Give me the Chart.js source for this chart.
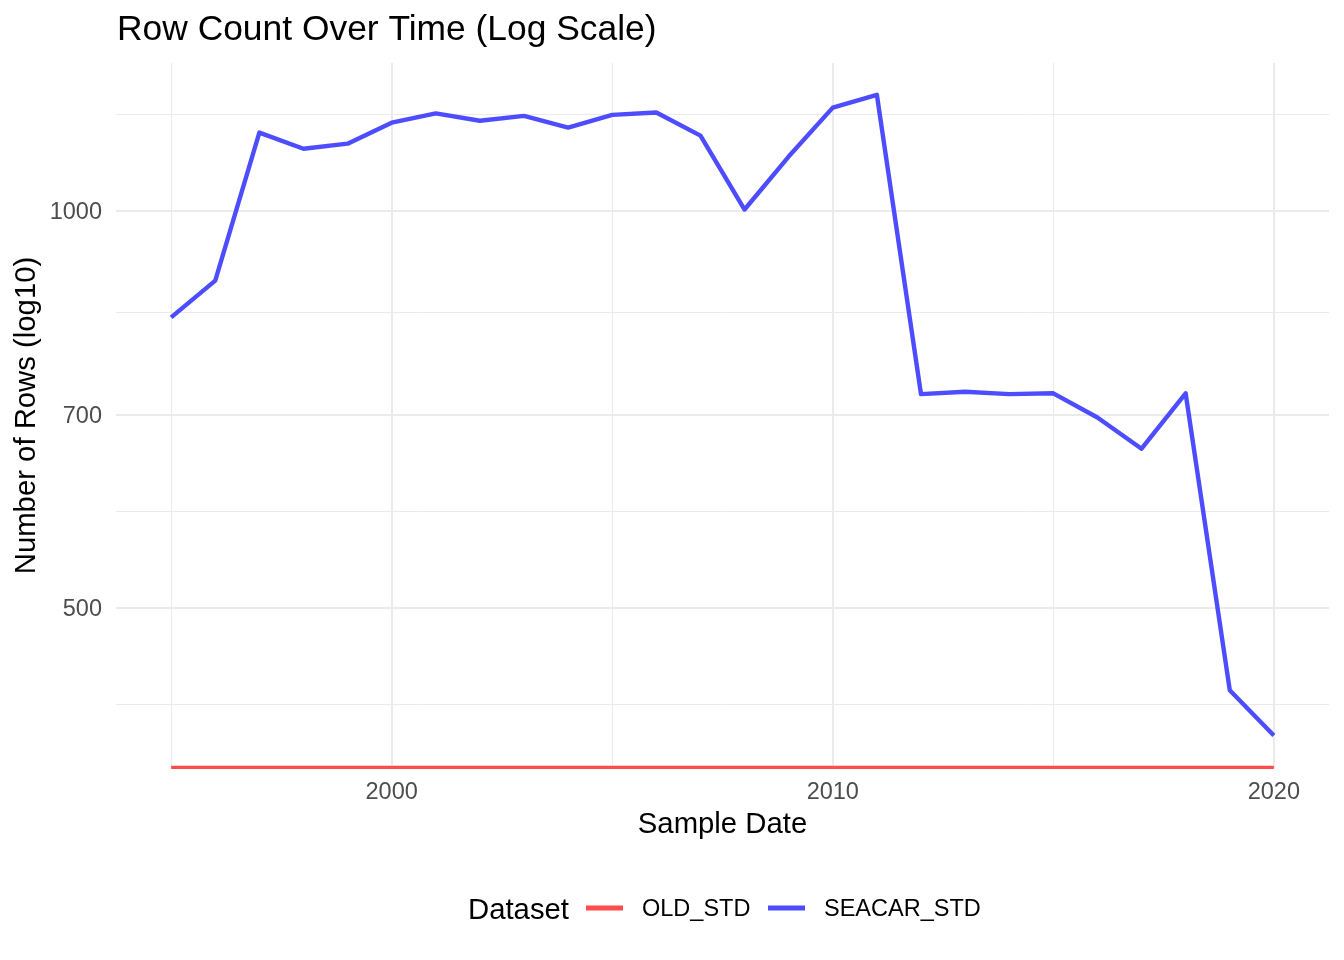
<!DOCTYPE html>
<html>
<head>
<meta charset="utf-8">
<title>Row Count Over Time (Log Scale)</title>
<script src="https://cdn.jsdelivr.net/npm/chart.js@4.4.1/dist/chart.umd.min.js"></script>
<style>
  html, body { margin: 0; padding: 0; background: #fff; }
  #wrap { width: 1344px; height: 960px; }
</style>
</head>
<body>
<div id="wrap"><canvas id="myChart" width="1344" height="960"></canvas></div>
<script>
// values
const years = [1995, 1996, 1997, 1998, 1999, 2000, 2001, 2002, 2003, 2004, 2005, 2006, 2007,
               2008, 2009, 2010, 2011, 2012, 2013, 2014, 2015, 2016, 2017, 2018, 2019, 2020];
const seacarRows = [830, 885, 1146, 1114, 1124, 1166, 1185, 1170, 1180, 1156, 1182, 1187, 1140,
                    1002, 1099, 1197, 1224, 726, 729, 726, 727, 697, 660, 727, 433, 400];
// OLD_STD has no rows, log10(0) = -Inf, which ggplot puts on the panel floor
const oldRows = [0, 0, 0, 0, 0, 0, 0, 0, 0, 0, 0, 0, 0,
                 0, 0, 0, 0, 0, 0, 0, 0, 0, 0, 0, 0, 0];
const seriesNames = ['OLD_STD', 'SEACAR_STD'];
const seriesColors = ['#FF4D4D', '#4D4DFF'];
const yTicks = [500, 700, 1000];
const xTicks = [2000, 2010, 2020];
const xMinorTicks = [1995, 2005, 2015];

const FONT = "'Liberation Sans', Arial, Helvetica, sans-serif";
Chart.defaults.font.family = FONT;

// axis limits: data range plus 5% each side (log space for y)
const yMin = 378, yMax = 1294;
const xMin = 1993.75, xMax = 2021.25;

// ggplot style minor breaks: halfway between majors in log space, one step past each end
const logMajors = yTicks.map(v => Math.log10(v));
const step = logMajors[1] - logMajors[0];
const ext = [logMajors[0] - step].concat(logMajors, [logMajors[logMajors.length - 1] + step]);
const yMinorTicks = [];
for (let i = 0; i < ext.length - 1; i++) {
  yMinorTicks.push(Math.pow(10, (ext[i] + ext[i + 1]) / 2));
}

const toPoints = (vals) => vals.map((v, i) => ({ x: years[i], y: v > 0 ? v : yMin }));

const ggTitle = {
  id: 'ggTitle',
  afterDraw(chart) {
    const ctx = chart.ctx;
    ctx.save();
    ctx.fillStyle = '#000';
    ctx.font = '35.4px ' + FONT;
    ctx.textAlign = 'left';
    ctx.textBaseline = 'alphabetic';
    ctx.fillText('Row Count Over Time (Log Scale)', chart.chartArea.left + 1, 40);
    ctx.restore();
  }
};

const ggLegend = {
  id: 'ggLegend',
  afterDraw(chart) {
    const ctx = chart.ctx;
    const keyX = [586, 768];
    const labelX = [642, 824];
    ctx.save();
    ctx.textAlign = 'left';
    ctx.textBaseline = 'alphabetic';
    ctx.fillStyle = '#000';
    ctx.font = '29.3px ' + FONT;
    ctx.fillText('Dataset', 468, 919);
    chart.data.datasets.forEach((ds, i) => {
      ctx.strokeStyle = ds.borderColor;
      ctx.lineWidth = 5;
      ctx.lineCap = 'butt';
      ctx.beginPath();
      ctx.moveTo(keyX[i], 908);
      ctx.lineTo(keyX[i] + 37, 908);
      ctx.stroke();
      ctx.font = '23.5px ' + FONT;
      ctx.fillText(ds.label, labelX[i], 916);
    });
    ctx.restore();
  }
};

const data = {
  datasets: [
    {
      label: seriesNames[0],
      data: toPoints(oldRows),
      borderColor: seriesColors[0],
      backgroundColor: seriesColors[0],
      borderWidth: 4.4,
      clip: 1,
    },
    {
      label: seriesNames[1],
      data: toPoints(seacarRows),
      borderColor: seriesColors[1],
      backgroundColor: seriesColors[1],
      borderWidth: 4.4,
    }
  ]
};

const config = {
  type: 'line',
  data: data,
  plugins: [ggTitle, ggLegend],
  options: {
    responsive: false,
    animation: false,
    layout: { padding: { top: 63, right: 15, bottom: 112, left: 0 } },
    elements: {
      point: { radius: 0, hoverRadius: 0 },
      line: { tension: 0, borderJoinStyle: 'round', borderCapStyle: 'butt' }
    },
    plugins: {
      legend: { display: false },
      title: { display: false },
      tooltip: { enabled: false }
    },
    scales: {
      x: {
        type: 'linear',
        min: xMin,
        max: xMax,
        afterBuildTicks: s => {
          s.ticks = xMinorTicks.concat(xTicks).sort((a, b) => a - b).map(v => ({ value: v }));
        },
        afterFit: s => { s.height = 80; },
        ticks: {
          autoSkip: false,
          maxRotation: 0,
          padding: 10,
          color: '#4D4D4D',
          font: { size: 23.5 },
          callback: v => xTicks.includes(v) ? String(v) : ''
        },
        grid: {
          drawTicks: false,
          color: '#EBEBEB',
          lineWidth: c => (c.tick && xTicks.includes(c.tick.value)) ? 2 : 1
        },
        border: { display: false },
        title: {
          display: true,
          text: 'Sample Date',
          color: '#000',
          font: { size: 29.3 },
          padding: { top: 0, bottom: 6 }
        }
      },
      y: {
        type: 'logarithmic',
        min: yMin,
        max: yMax,
        afterBuildTicks: s => {
          s.ticks = yMinorTicks.concat(yTicks).sort((a, b) => a - b).map(v => ({ value: v }));
        },
        afterFit: s => { s.width = 116; },
        ticks: {
          autoSkip: false,
          padding: 14,
          labelOffset: 2,
          color: '#4D4D4D',
          font: { size: 23.5 },
          callback: v => yTicks.includes(v) ? String(v) : ''
        },
        grid: {
          drawTicks: false,
          color: '#EBEBEB',
          lineWidth: c => (c.tick && yTicks.includes(c.tick.value)) ? 2 : 1
        },
        border: { display: false },
        title: {
          display: true,
          text: 'Number of Rows (log10)',
          color: '#000',
          font: { size: 29.3 },
          padding: { top: 9, bottom: 0 }
        }
      }
    }
  }
};

const ctx = document.getElementById('myChart');
const myChart = new Chart(ctx, config);
</script>
</body>
</html>
